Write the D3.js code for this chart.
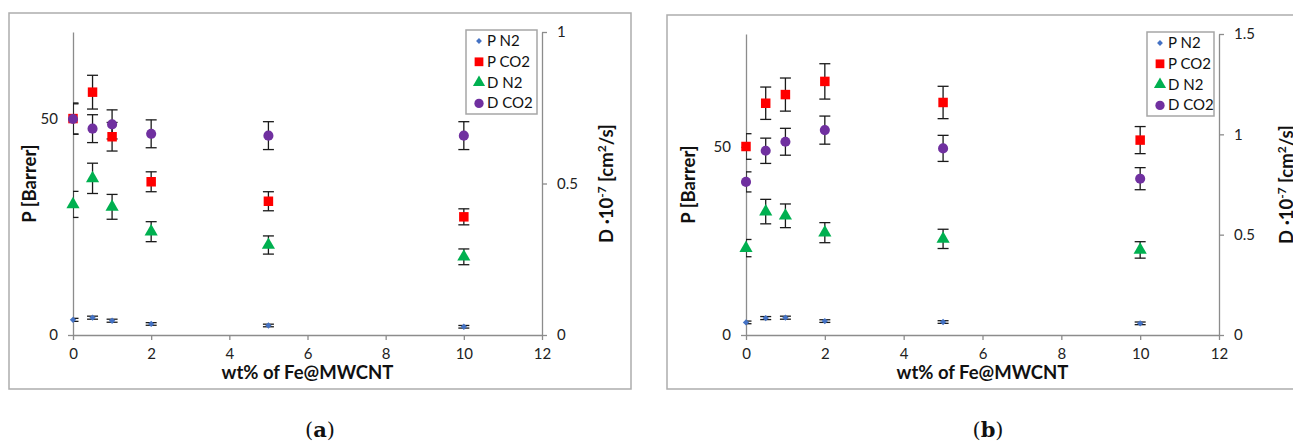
<!DOCTYPE html>
<html>
<head>
<meta charset="utf-8">
<script src="https://cdn.jsdelivr.net/npm/d3@7"></script>
<style>
  body { margin: 0; background: #fff; }
  .tick text { font-family: Lato, "Open Sans", sans-serif; font-size: 15px; fill: #222; }
  .title { font-family: Lato, "Open Sans", sans-serif; font-size: 18.5px; font-weight: bold; fill: #111; }
  .legend text { font-family: Lato, "Open Sans", sans-serif; font-size: 15px; fill: #111; }
  .caption { font-family: "DejaVu Serif", "Liberation Serif", serif; font-size: 21px; fill: #111; }
</style>
</head>
<body>
<div id="vis"></div>
<script>
// x values (wt% of Fe@MWCNT)
const xVals = [0, 0.5, 1, 2, 5, 10];
const seriesNames = ["P N2", "P CO2", "D N2", "D CO2"];
const xTicks = [0, 2, 4, 6, 8, 10, 12];

// panel (a)
const aPN2 = [3.5, 4.0, 3.3, 2.55, 2.2, 1.9];
const aPN2Err = [0.35, 0.35, 0.35, 0.3, 0.3, 0.3];
const aPCO2 = [50.0, 56.1, 45.8, 35.4, 30.9, 27.3];
const aPCO2Err = [3.6, 3.9, 3.3, 2.3, 2.2, 1.85];
const aDN2 = [0.431, 0.517, 0.423, 0.341, 0.297, 0.258];
const aDN2Err = [0.043, 0.05, 0.041, 0.033, 0.03, 0.026];
const aDCO2 = [0.713, 0.681, 0.695, 0.664, 0.658, 0.658];
const aDCO2Err = [0.05, 0.046, 0.048, 0.046, 0.046, 0.046];
const aLeftTicks = [0, 50];
const aRightTicks = [0, 0.5, 1];

// panel (b)
const bPN2 = [3.35, 4.5, 4.6, 3.7, 3.45, 3.1];
const bPN2Err = [0.35, 0.4, 0.4, 0.35, 0.35, 0.35];
const bPCO2 = [50.1, 61.6, 63.9, 67.4, 61.8, 51.8];
const bPCO2Err = [3.4, 4.3, 4.4, 4.7, 4.3, 3.6];
const bDN2 = [0.433, 0.615, 0.594, 0.51, 0.479, 0.424];
const bDN2Err = [0.043, 0.061, 0.059, 0.05, 0.048, 0.041];
const bDCO2 = [0.763, 0.918, 0.963, 1.021, 0.93, 0.779];
const bDCO2Err = [0.05, 0.063, 0.067, 0.07, 0.065, 0.055];
const bLeftTicks = [0, 50];
const bRightTicks = [0, 0.5, 1, 1.5];

const colors = ["#4472C4", "#FF0000", "#00B050", "#7030A0"];
const symbols = [d3.symbolSquare, d3.symbolSquare, d3.symbolTriangle, d3.symbolCircle];
const symSizes = [20, 90, 75, 80];
const symRotate = [45, 0, 0, 0];

const svg = d3.select('#vis').append('svg')
  .attr('width', 1293).attr('height', 443);

function drawPanel(p) {
  // outer frame
  svg.append('rect')
    .attr('x', p.frame[0]).attr('y', p.frame[1])
    .attr('width', p.frame[2]).attr('height', p.frame[3])
    .attr('fill', 'none').attr('stroke', '#ADADAD').attr('stroke-width', 1.5);

  const g = svg.append('g');
  const x = d3.scaleLinear().domain([0, 12]).range([p.left, p.right]);
  const yL = d3.scaleLinear().domain([0, p.leftMax]).range([p.bottom, p.top]);
  const yR = d3.scaleLinear().domain([0, p.rightMax]).range([p.bottom, p.top]);

  const styleAxis = sel => {
    sel.select('.domain').attr('stroke', '#8C8C8C').attr('stroke-width', 1.3);
    sel.selectAll('.tick line').attr('stroke', '#8C8C8C').attr('stroke-width', 1.3);
  };

  g.append('g').attr('transform', `translate(0,${p.bottom})`)
    .call(d3.axisBottom(x).tickValues(xTicks).tickSize(5).tickSizeOuter(0).tickPadding(8).tickFormat(d3.format('d')))
    .call(styleAxis);
  g.append('g').attr('transform', `translate(${p.left},0)`)
    .call(d3.axisLeft(yL).tickValues(p.leftTicks).tickSize(5).tickSizeOuter(0).tickPadding(10).tickFormat(d3.format('d')))
    .call(styleAxis);
  g.append('g').attr('transform', `translate(${p.right},0)`)
    .call(d3.axisRight(yR).tickValues(p.rightTicks).tickSize(5).tickSizeOuter(0).tickPadding(10).tickFormat(d3.format('~g')))
    .call(styleAxis);

  // clip for error bars
  const clipId = 'clip' + p.name;
  svg.append('defs').append('clipPath').attr('id', clipId)
    .append('rect').attr('x', p.left).attr('y', p.top - 20)
    .attr('width', p.right - p.left).attr('height', p.bottom - p.top + 20);

  const series = [
    { vals: p.pn2, err: p.pn2Err, y: yL },
    { vals: p.pco2, err: p.pco2Err, y: yL },
    { vals: p.dn2, err: p.dn2Err, y: yR },
    { vals: p.dco2, err: p.dco2Err, y: yR }
  ];

  const gErr = g.append('g').attr('clip-path', `url(#${clipId})`);
  series.forEach((s, si) => {
    const pts = xVals.map((xv, i) => ({ x: xv, v: s.vals[i], e: s.err[i] }));
    const eg = gErr.selectAll(null).data(pts).enter().append('g')
      .attr('stroke', '#1a1a1a').attr('stroke-width', 1.3);
    eg.append('line')
      .attr('x1', d => x(d.x)).attr('x2', d => x(d.x))
      .attr('y1', d => s.y(d.v - d.e)).attr('y2', d => s.y(d.v + d.e));
    [-1, 1].forEach(sign => {
      eg.append('line')
        .attr('x1', d => x(d.x) - 5.5).attr('x2', d => x(d.x) + 5.5)
        .attr('y1', d => s.y(d.v + sign * d.e)).attr('y2', d => s.y(d.v + sign * d.e));
    });
  });

  series.forEach((s, si) => {
    g.selectAll(null).data(xVals.map((xv, i) => ({ x: xv, v: s.vals[i] }))).enter()
      .append('path')
      .attr('d', d3.symbol().type(symbols[si]).size(symSizes[si]))
      .attr('transform', d => `translate(${x(d.x)},${s.y(d.v)}) rotate(${symRotate[si]})`)
      .attr('fill', colors[si]);
  });

  // legend
  const lg = g.append('g').attr('class', 'legend');
  lg.append('rect')
    .attr('x', p.legend[0]).attr('y', p.legend[1])
    .attr('width', p.legend[2]).attr('height', p.legend[3])
    .attr('fill', '#fff').attr('stroke', '#A6A6A6').attr('stroke-width', 1.5);
  seriesNames.forEach((name, i) => {
    const ly = p.legend[1] + 11 + i * 20.8;
    lg.append('path')
      .attr('d', d3.symbol().type(symbols[i]).size(symSizes[i] * 0.85))
      .attr('transform', `translate(${p.legend[0] + 13},${ly}) rotate(${symRotate[i]})`)
      .attr('fill', colors[i]);
    lg.append('text').attr('x', p.legend[0] + 21).attr('y', ly + 5).text(name);
  });

  // titles
  const midY = (p.top + p.bottom) / 2;
  g.append('text').attr('class', 'title')
    .attr('x', (p.left + p.right) / 2).attr('y', p.bottom + 44)
    .attr('text-anchor', 'middle').text('wt% of Fe@MWCNT');
  g.append('text').attr('class', 'title')
    .attr('transform', `translate(${p.leftTitleX},${midY}) rotate(-90)`)
    .attr('text-anchor', 'middle').text('P [Barrer]');
  const rt = g.append('text').attr('class', 'title')
    .attr('transform', `translate(${p.rightTitleX},${midY}) rotate(-90)`)
    .attr('text-anchor', 'middle');
  rt.append('tspan').text('D ·10');
  rt.append('tspan').attr('dy', -7).style('font-size', '12px').text('-7');
  rt.append('tspan').attr('dy', 7).text(' [cm');
  rt.append('tspan').attr('dy', -7).style('font-size', '12px').text('2');
  rt.append('tspan').attr('dy', 7).text('/s]');

  // caption
  const cap = svg.append('text').attr('class', 'caption')
    .attr('x', p.captionX).attr('y', 437).attr('text-anchor', 'middle');
  cap.append('tspan').text('(');
  cap.append('tspan').style('font-weight', 'bold').text(p.name);
  cap.append('tspan').text(')');
}

drawPanel({
  name: 'a', frame: [9, 13, 622, 376],
  left: 73, right: 542, top: 32, bottom: 335,
  leftMax: 70, rightMax: 1, leftTicks: aLeftTicks, rightTicks: aRightTicks,
  pn2: aPN2, pn2Err: aPN2Err, pco2: aPCO2, pco2Err: aPCO2Err,
  dn2: aDN2, dn2Err: aDN2Err, dco2: aDCO2, dco2Err: aDCO2Err,
  legend: [466, 30, 71, 84], leftTitleX: 36, rightTitleX: 613, captionX: 320
});

drawPanel({
  name: 'b', frame: [667, 15, 640, 374],
  left: 746, right: 1219, top: 34, bottom: 335,
  leftMax: 80, rightMax: 1.5, leftTicks: bLeftTicks, rightTicks: bRightTicks,
  pn2: bPN2, pn2Err: bPN2Err, pco2: bPCO2, pco2Err: bPCO2Err,
  dn2: bDN2, dn2Err: bDN2Err, dco2: bDCO2, dco2Err: bDCO2Err,
  legend: [1147, 32, 67, 84], leftTitleX: 695, rightTitleX: 1293, captionX: 988
});
</script>
</body>
</html>
